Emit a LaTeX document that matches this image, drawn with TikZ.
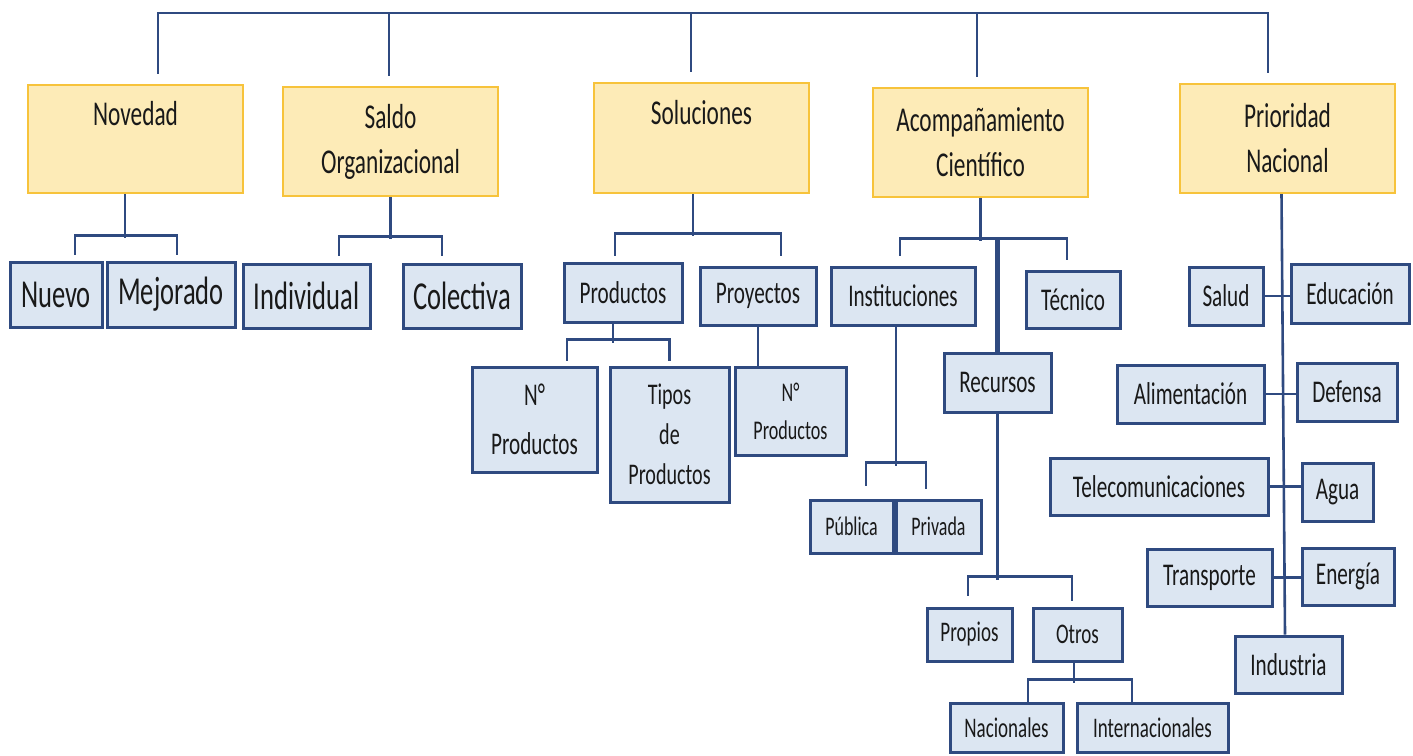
\documentclass[tikz,border=0pt]{standalone}
\usepackage{fontspec}
\setmainfont{Carlito}[FakeStretch=0.67]
\definecolor{boxblue}{HTML}{DCE6F2}
\definecolor{lineblue}{HTML}{2F4A80}
\definecolor{boxyellow}{HTML}{FDEBB7}
\definecolor{edgeyellow}{HTML}{F7C33B}

\begin{document}
\begin{tikzpicture}[x=0.5pt, y=0.5pt]
	\tikzstyle{every node}=[inner sep=0pt, align=center, text=black!90]
	\tikzset{wh/.style 2 args={minimum width=#1*0.5pt, minimum height=#2*0.5pt}}
	\tikzstyle{crit}=[draw=edgeyellow, fill=boxyellow, line width=1.1pt, font=\fontsize{17.4}{22.5}\selectfont]
	\tikzstyle{item}=[draw=lineblue, fill=boxblue, line width=1.5pt]
	\tikzstyle{big}=[font=\fontsize{19.8}{23}\selectfont]
	\tikzstyle{mid}=[font=\fontsize{15.8}{19}\selectfont]
	\tikzstyle{sml}=[font=\fontsize{14.2}{17}\selectfont]
	\tikzstyle{tny}=[font=\fontsize{13.4}{16}\selectfont]
	\tikzstyle{link}=[draw=lineblue, line width=1.3pt]
	\useasboundingbox (0,0) rectangle (1413,-755);

	% criterios
	\node[crit, wh={215}{108}] (Nov) at (135.5,-139) {Novedad\\\vphantom{Organizacional}};
	\node[crit, wh={215}{109}] (Sal) at (390.5,-141.5) {Saldo\\Organizacional};
	\node[crit, wh={215}{110}] (Sol) at (701.5,-138) {Soluciones\\\vphantom{Organizacional}};
	\node[crit, wh={215}{109}] (Aco) at (980.5,-142.5) {Acompañamiento\\Científico};
	\node[crit, wh={215}{109}] (Pri) at (1287.5,-138.5) {Prioridad\\Nacional};

	% novedad, saldo
	\node[item, big, wh={92}{65}] (Nue) at (56,-294.5) {Nuevo};
	\node[item, big, wh={128}{65}] (Mej) at (171,-294.5) {Mejorado};
	\node[item, big, wh={127}{64}] (Ind) at (306.5,-296) {Individual};
	\node[item, big, wh={118}{64}] (Col) at (462,-296) {Colectiva};

	% soluciones
	\node[item, mid, wh={118}{59}] (Prd) at (623,-293) {Productos};
	\node[item, mid, wh={116}{58}] (Pry) at (758,-296) {Proyectos};
	\node[item, font=\fontsize{15.8}{24.5}\selectfont, wh={125}{105}] (NPa) at (534.5,-419.5) {N°\\Productos};
	\node[item, font=\fontsize{15}{20}\selectfont, wh={119}{135}] (Tip) at (669.5,-434.5) {Tipos\\de\\Productos};
	\node[item, font=\fontsize{13.5}{19}\selectfont, wh={111}{88}] (NPb) at (790.5,-411) {N°\\Productos};

	% acompanamiento
	\node[item, mid, wh={144}{58}] (Ins) at (903,-296) {Instituciones};
	\node[item, mid, wh={94}{57}] (Tec) at (1073,-299.5) {Técnico};
	\node[item, mid, wh={107}{59}] (Rec) at (997.5,-382.5) {Recursos};
	\node[item, tny, wh={83}{53}] (Pub) at (851.5,-526.5) {Pública};
	\node[item, tny, wh={85}{53}] (Prv) at (938.5,-526.5) {Privada};
	\node[item, sml, wh={85}{53}] (Pro) at (969.5,-634.5) {Propios};
	\node[item, sml, wh={89}{53}] (Otr) at (1077.5,-634.5) {Otros};
	\node[item, sml, wh={113}{49}] (Nac) at (1006.5,-727.5) {Nacionales};
	\node[item, sml, wh={151}{49}] (Int) at (1152.5,-727.5) {Internacionales};

	% prioridad
	\node[item, mid, wh={74}{58}] (Sld) at (1226,-296) {Salud};
	\node[item, mid, wh={118}{59}] (Edu) at (1350,-293.5) {Educación};
	\node[item, mid, wh={147}{58}] (Ali) at (1190.5,-394) {Alimentación};
	\node[item, mid, wh={100}{58}] (Def) at (1347,-392) {Defensa};
	\node[item, mid, wh={218}{57}] (Tel) at (1159,-486.5) {Telecomunicaciones};
	\node[item, mid, wh={71}{58}] (Agu) at (1337.5,-492) {Agua};
	\node[item, mid, wh={125}{57}] (Tra) at (1209.5,-577.5) {Transporte};
	\node[item, mid, wh={92}{57}] (Ene) at (1348,-576.5) {Energía};
	\node[item, mid, wh={107}{57}] (Idu) at (1288.5,-664.5) {Industria};

	% barra superior
	\draw[link] ([shift={(22.5,10)}]Nov.north) |- ([shift={(-19.5,70)}]Pri.north) -- ([shift={(-19.5,10)}]Pri.north);
	\draw[link] ([shift={(-1.5,10)}]Sal.north) -- ++(0,63);
	\draw[link] ([shift={(-10.5,10)}]Sol.north) -- ++(0,59);
	\draw[link] ([shift={(-3.5,10)}]Aco.north) -- ++(0,64);

	\draw[link] ([shift={(-10.5,0)}]Nov.south) -- ++(0,-44);
	\draw[link] ([shift={(19,6)}]Nue.north) |- ([shift={(6,25)}]Mej.north) -- ([shift={(6,6)}]Mej.north);
	\draw[link] (Sal.south) -- ++(0,-42);
	\draw[link] ([shift={(32.5,7)}]Ind.north) |- ([shift={(-20,26)}]Col.north) -- ([shift={(-20,7)}]Col.north);

	\draw[link] ([shift={(-8.5,0)}]Sol.south) -- ++(0,-42);
	\draw[link] ([shift={(-8,6.5)}]Prd.north) |- ([shift={(23,32)}]Pry.north) -- ([shift={(23,10)}]Pry.north);
	\draw[link] ([shift={(-10,0)}]Prd.south) -- ++(0,-18.5);
	\draw[link] ([shift={(32.5,5)}]NPa.north) |- ([shift={(0,26)}]Tip.north) -- ([shift={(0,5)}]Tip.north);
	\draw[link] (Pry.south) -- (Pry.south |- NPb.north);

	\draw[link] (Aco.south) -- ++(0,-43);
	\draw[link] ([shift={(-3,10)}]Ins.north) |- ([shift={(-6,31)}]Tec.north) -- ([shift={(-6,10)}]Tec.north);
	\draw[link, line width=2.2pt] (Rec.north) -- ++(0,113);
	\draw[link] ([shift={(-7,0)}]Ins.south) -- ++(0,-139);
	\draw[link] ([shift={(14.5,13)}]Pub.north) |- ([shift={(-12.5,36)}]Prv.north) -- ([shift={(-12.5,10)}]Prv.north);
	\draw[link] (Rec.south) -- ++(0,-166);
	\draw[link] ([shift={(-1.5,11)}]Pro.north) |- ([shift={(-5.5,30)}]Otr.north) -- ([shift={(-5.5,6)}]Otr.north);
	\draw[link] ([shift={(-3.5,0)}]Otr.south) -- ++(0,-20);
	\draw[link] ([shift={(21.5,0)}]Nac.north) |- ([shift={(-20.5,22)}]Int.north) -- ([shift={(-20.5,0)}]Int.north);

	\draw[link] ([shift={(-6,0)}]Pri.south) -- ([shift={(-3.5,0)}]Idu.north);
	\draw[link] (Sld.east) -- (Sld.east -| Edu.west);
	\draw[link] (Ali.east) -- (Ali.east -| Def.west);
	\draw[link] (Tel.east) -- (Tel.east -| Agu.west);
	\draw[link] (Tra.east) -- (Tra.east -| Ene.west);
\end{tikzpicture}
\end{document}
